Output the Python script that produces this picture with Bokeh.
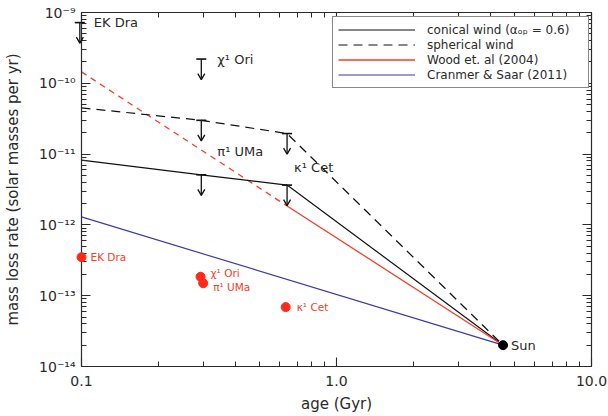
from bokeh.plotting import figure
from bokeh.models import (ColumnDataSource, LogAxis, FixedTicker, Legend, LegendItem,
                          Range1d, CustomJSTickFormatter)
from bokeh.core.properties import value
from bokeh.embed import file_html
from bokeh.resources import INLINE

# ---------------- data ----------------
sun_age = [4.5]
sun_rate = [2.0e-14]

conical_age = [0.1, 0.295, 0.64, 4.5]
conical_rate = [8.2e-12, 5.1e-12, 3.65e-12, 2.0e-14]

spherical_age = [0.1, 0.295, 0.64, 4.5]
spherical_rate = [4.5e-11, 3.0e-11, 1.95e-11, 2.0e-14]

wood_extrap_age = [0.1, 0.64]
wood_extrap_rate = [1.45e-10, 1.85e-12]
wood_age = [0.64, 4.5]
wood_rate = [1.85e-12, 2.0e-14]

cs_age = [0.1, 4.5]
cs_rate = [1.3e-12, 2.0e-14]

obs_star = ["EK Dra", "χ¹ Ori", "π¹ UMa", "κ¹ Cet"]
obs_age = [0.1, 0.293, 0.30, 0.632]
obs_rate = [3.5e-13, 1.85e-13, 1.5e-13, 6.9e-14]

limit_star = ["EK Dra", "χ¹ Ori", "π¹ UMa", "κ¹ Cet"]
limit_age = [0.0985, 0.295, 0.295, 0.64, 0.295, 0.64]
limit_rate = [7.2e-10, 2.2e-10, 3.0e-11, 1.95e-11, 5.1e-12, 3.65e-12]

x_ticks = [0.1, 1.0, 10.0]
x_tick_labels = ["0.1", "1.0", "10.0"]
y_ticks = [1e-14, 1e-13, 1e-12, 1e-11, 1e-10, 1e-9]
y_tick_labels = ["10⁻¹⁴", "10⁻¹³", "10⁻¹²", "10⁻¹¹", "10⁻¹⁰", "10⁻⁹"]

# ---------------- styles ----------------
FONT = "DejaVu Sans"
INK = "#2a2a2a"
RED = "#f2402a"
BLUE = "#3b3ba6"
ARROW_FACTOR = 10 ** (20.5 / 70.7)   # arrow length ~20 px on the log y axis
HEAD_DX = 10 ** (3.5 / 255.3)        # arrowhead half-width ~3.5 px on the log x axis
HEAD_DY = 10 ** (6.0 / 70.7)         # arrowhead length ~6 px on the log y axis

p = figure(width=608, height=416, x_axis_type="log", y_axis_type="log",
           x_range=Range1d(0.1, 10), y_range=Range1d(1e-14, 1e-9),
           output_backend="svg", toolbar_location=None,
           min_border_left=81, min_border_right=17, min_border_top=12,
           min_border_bottom=50)
p.grid.visible = False
p.outline_line_color = INK
p.background_fill_color = "white"
p.border_fill_color = "white"

x_minor = [m * d for d in (0.1, 1.0) for m in range(2, 10)]
y_minor = [m * d for d in (1e-14, 1e-13, 1e-12, 1e-11, 1e-10) for m in range(2, 10)]


def labels_formatter(ticks, labels):
    return CustomJSTickFormatter(args=dict(t=ticks, l=labels), code="""
        let best = 0, bd = Infinity;
        for (let i = 0; i < t.length; i++) {
            const d = Math.abs(Math.log10(t[i]) - Math.log10(tick));
            if (d < bd) { bd = d; best = i; }
        }
        return l[best];
    """)


def style_axis(ax):
    ax.axis_line_color = INK
    ax.axis_line_width = 1.2
    ax.major_tick_in = 9
    ax.major_tick_out = 0
    ax.minor_tick_in = 5
    ax.minor_tick_out = 0
    ax.major_tick_line_color = INK
    ax.minor_tick_line_color = INK
    ax.major_tick_line_width = 1.1
    ax.minor_tick_line_width = 1.0
    ax.major_label_text_font = FONT
    ax.major_label_text_color = INK
    ax.major_label_text_font_size = "14px"
    ax.axis_label_text_font = FONT
    ax.axis_label_text_font_style = "normal"
    ax.axis_label_text_color = INK
    ax.axis_label_text_font_size = "15px"


xb = p.xaxis[0]
xb.ticker = FixedTicker(ticks=x_ticks, minor_ticks=x_minor)
xb.formatter = labels_formatter(x_ticks, x_tick_labels)
xb.axis_label = "age (Gyr)"
style_axis(xb)
xb.major_label_standoff = 9
xb.axis_label_standoff = 6

yl = p.yaxis[0]
yl.ticker = FixedTicker(ticks=y_ticks, minor_ticks=y_minor)
yl.formatter = labels_formatter(y_ticks, y_tick_labels)
yl.axis_label = "mass loss rate (solar masses per yr)"
style_axis(yl)
yl.major_label_standoff = 6
yl.axis_label_standoff = 14

xt = LogAxis(ticker=FixedTicker(ticks=x_ticks, minor_ticks=x_minor),
             formatter=CustomJSTickFormatter(code="return ''"))
style_axis(xt)
xt.major_label_standoff = 0
p.add_layout(xt, "above")
yr = LogAxis(ticker=FixedTicker(ticks=y_ticks, minor_ticks=y_minor),
             formatter=CustomJSTickFormatter(code="return ''"))
style_axis(yr)
yr.major_label_standoff = 0
p.add_layout(yr, "right")

# ---------------- lines ----------------
r_wood_ex = p.line(wood_extrap_age, wood_extrap_rate, line_color=RED, line_width=1.3,
                   line_dash="6 5")
r_con = p.line(conical_age, conical_rate, line_color="#111111", line_width=1.2)
r_sph = p.line(spherical_age, spherical_rate, line_color="#111111", line_width=1.2,
               line_dash="9 6")
r_wood = p.line(wood_age, wood_rate, line_color=RED, line_width=1.3)
r_cs = p.line(cs_age, cs_rate, line_color=BLUE, line_width=1.2)

# ---------------- upper limits (bar + downward open arrow) ----------------
lim_end = [v / ARROW_FACTOR for v in limit_rate]
shaft_src = ColumnDataSource(dict(x=limit_age, y=limit_rate, y_end=lim_end))
p.segment(x0="x", y0="y", x1="x", y1="y_end", source=shaft_src,
          line_color="#111111", line_width=1.3, level="overlay")
head_src = ColumnDataSource(dict(
    xs=[[a / HEAD_DX, a, a * HEAD_DX] for a in limit_age],
    ys=[[e * HEAD_DY, e, e * HEAD_DY] for e in lim_end],
))
p.multi_line(xs="xs", ys="ys", source=head_src, line_color="#111111", line_width=1.3,
             level="overlay")
p.scatter("x", "y", source=shaft_src, marker="dash", size=10, line_color="#111111",
          line_width=1.6, level="overlay")

lim_lab = ColumnDataSource(dict(
    x=limit_age[:4], y=limit_rate[:4], text=limit_star,
    dx=[14, 16, 16, 7], dy=[0, 0, 31, 34],
))
p.text("x", "y", text="text", source=lim_lab, x_offset="dx", y_offset="dy",
       text_font=value(FONT), text_font_size="13px", text_color=INK,
       text_baseline="middle", text_align="left")

# ---------------- observed points ----------------
obs_src = ColumnDataSource(dict(
    x=obs_age, y=obs_rate, text=obs_star,
    dx=[9, 10, 10, 11], dy=[0, -4, 4, 0],
))
p.scatter("x", "y", source=obs_src, size=9, fill_color="#ff2a1a", line_color="#ff2a1a",
          level="overlay")
p.text("x", "y", text="text", source=obs_src, x_offset="dx", y_offset="dy",
       text_font=value(FONT), text_font_size="10.5px", text_color=RED,
       text_baseline="middle", text_align="left")

# ---------------- Sun ----------------
p.scatter(sun_age, sun_rate, size=9, fill_color="black", line_color="black")
p.text(sun_age, sun_rate, text=["Sun"], x_offset=8, text_font=value(FONT),
       text_font_size="13px", text_color=INK, text_baseline="middle", text_align="left")

# ---------------- legend ----------------
legend = Legend(items=[
    LegendItem(label="conical wind (αₒₚ = 0.6)", renderers=[r_con]),
    LegendItem(label="spherical wind", renderers=[r_sph]),
    LegendItem(label="Wood et. al (2004)", renderers=[r_wood]),
    LegendItem(label="Cranmer & Saar (2011)", renderers=[r_cs]),
], location=(251, 278))
legend.border_line_color = "#111111"
legend.border_line_width = 1
legend.background_fill_color = "white"
legend.background_fill_alpha = 1
legend.padding = 5
legend.spacing = 0
legend.margin = 0
legend.glyph_width = 77
legend.glyph_height = 15
legend.label_height = 15
legend.label_width = 156
legend.label_standoff = 12
legend.label_text_font = FONT
legend.label_text_font_size = "12px"
legend.label_text_color = INK
p.add_layout(legend)

open("out.html", "w").write(file_html(p, INLINE))
